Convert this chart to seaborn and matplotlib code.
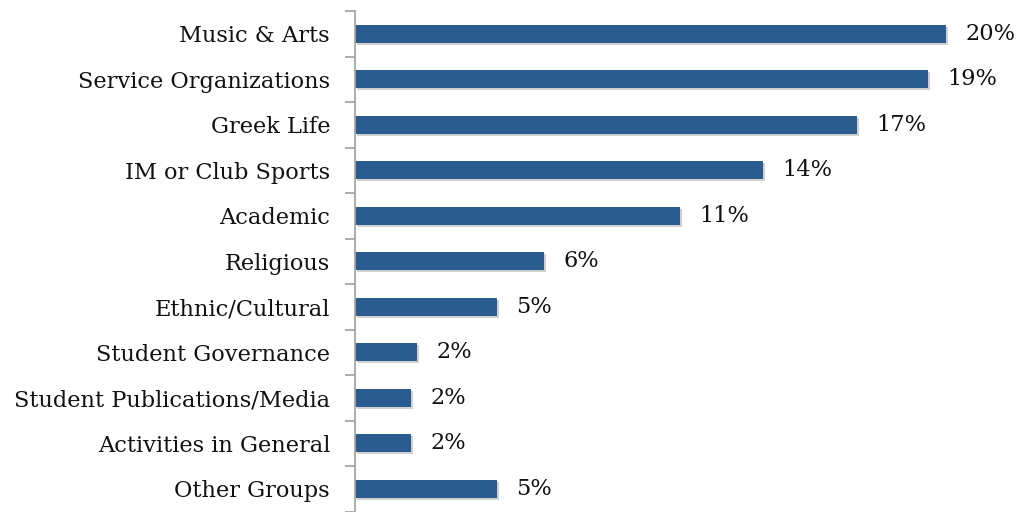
import matplotlib
matplotlib.use("Agg")
import matplotlib.pyplot as plt
import matplotlib.patheffects as pe
import seaborn as sns
import pandas as pd
import numpy as np
from matplotlib.ticker import FixedLocator

categories = ["Music & Arts", "Service Organizations", "Greek Life", "IM or Club Sports",
              "Academic", "Religious", "Ethnic/Cultural", "Student Governance",
              "Student Publications/Media", "Activities in General", "Other Groups"]
values = [20.0, 19.4, 17.0, 13.8, 11.0, 6.4, 4.8, 2.1, 1.9, 1.9, 4.8]
value_labels = ["20%", "19%", "17%", "14%", "11%", "6%", "5%", "2%", "2%", "2%", "5%"]

sns.set_style("white")
plt.rcParams['font.family'] = ['DejaVu Serif']

df = pd.DataFrame({"category": categories, "value": values})

fig = plt.figure(figsize=(10.21, 5.12), dpi=100)
ax = fig.add_axes([355/1021, 0.5/512, 666/1021, 500.5/512])
sns.barplot(data=df, y="category", x="value", orient="h", color="#2B5C8F",
            width=0.4, saturation=1, linewidth=0, edgecolor="none", ax=ax)
for p in ax.patches:
    p.set_path_effects([pe.SimplePatchShadow(offset=(1.5, -1.5), alpha=0.3, shadow_rgbFace="#666666"),
                        pe.Normal()])
ax.set_xlim(0, 666/29.55)
ax.set_ylim(len(categories) - 0.5, -0.5)
ax.set_xlabel("")
ax.set_ylabel("")
ax.set_xticks([])
for s in ["top", "right", "bottom"]:
    ax.spines[s].set_visible(False)
ax.spines["left"].set_color("#A6A6A6")
ax.spines["left"].set_linewidth(1.3)
ax.tick_params(axis="y", which="major", left=False, length=0, pad=18, labelsize=16.2, labelcolor="#111111")
ax.yaxis.set_minor_locator(FixedLocator(np.arange(-0.5, len(categories), 1.0)))
ax.tick_params(axis="y", which="minor", left=True, length=7, width=1.3, color="#A6A6A6", direction="out")

for i, (v, lab) in enumerate(zip(values, value_labels)):
    ax.text(v + 0.65, i, lab, va="center", ha="left", fontsize=16.2, color="#111111")

fig.savefig("out.png", dpi=100)
